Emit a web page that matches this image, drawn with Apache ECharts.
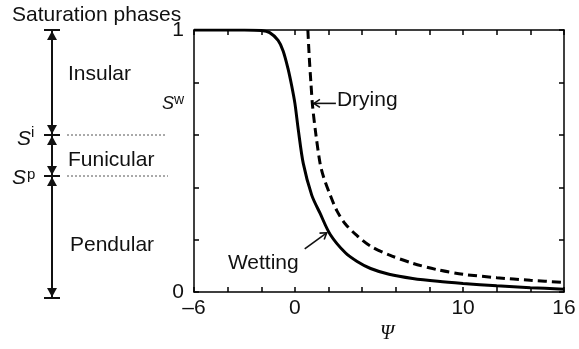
<!DOCTYPE html>
<html>
<head>
  <meta charset="utf-8">
  <title>Saturation phases</title>
  <script src="https://cdn.jsdelivr.net/npm/echarts@6/dist/echarts.min.js"></script>
  <style>
    html, body { margin: 0; padding: 0; background: #fff; }
    #main { width: 579px; height: 349px; }
  </style>
</head>
<body>
  <div id="main"></div>
  <script>
    // curves
    var wettingPsi = [-6, -3, -2, -1.5, -1.0, -0.7, -0.4, -0.2, 0, 0.2, 0.5, 1.0, 1.5, 2.1, 3.0, 3.7, 4.5, 5.6, 7.0, 8.5, 10, 12, 14, 16];
    var wettingS   = [1, 1, 0.998, 0.99, 0.96, 0.92, 0.85, 0.79, 0.72, 0.62, 0.49, 0.37, 0.30, 0.22, 0.15, 0.117, 0.09, 0.068, 0.052, 0.041, 0.033, 0.024, 0.017, 0.011];
    var dryingPsi  = [0.77, 0.85, 0.95, 1.05, 1.25, 1.5, 1.7, 2.1, 2.5, 3.0, 3.7, 4.5, 5.6, 7.0, 8.5, 10, 12, 14, 16];
    var dryingS    = [1, 0.9, 0.8, 0.71, 0.6, 0.49, 0.44, 0.37, 0.31, 0.26, 0.215, 0.175, 0.142, 0.11, 0.085, 0.068, 0.055, 0.045, 0.037];
    var xTickLabels = [-6, 0, 10, 16];
    var yTickLabels = [0, 1];

    function pairs(xs, ys) {
      return xs.map(function (x, i) { return [x, ys[i]]; });
    }

    var font = '"Liberation Sans", Arial, sans-serif';
    var ink = '#111';

    var myChart = echarts.init(document.getElementById('main'));

    function axisCommon() {
      return {
        axisLine: { onZero: false, lineStyle: { color: '#000', width: 1.5 } },
        axisTick: { inside: true, length: 5, lineStyle: { color: '#000', width: 1.5 } },
        splitLine: { show: false }
      };
    }

    var option = {
      animation: false,
      grid: { left: 194, right: 15, top: 30, bottom: 51 },
      xAxis: [
        Object.assign({
          type: 'value', min: -6, max: 16, interval: 2, position: 'bottom',
          name: 'Ψ', nameLocation: 'middle', nameGap: 26,
          nameTextStyle: { fontFamily: '"Liberation Serif", serif', fontStyle: 'italic', fontSize: 20, color: ink, padding: [0, 0, 0, 16] },
          axisLabel: {
            margin: 6, fontSize: 21, fontFamily: font, color: ink,
            formatter: function (v) {
              return xTickLabels.indexOf(v) >= 0 ? String(v).replace('-', '\u2013') : '';
            }
          }
        }, axisCommon()),
        Object.assign({
          type: 'value', min: -6, max: 16, interval: 2, position: 'top',
          axisLabel: { show: false }
        }, axisCommon())
      ],
      yAxis: [
        Object.assign({
          type: 'value', min: 0, max: 1, interval: 0.2, position: 'left',
          axisLabel: {
            margin: 10, fontSize: 21, fontFamily: font, color: ink,
            formatter: function (v) {
              return yTickLabels.indexOf(v) >= 0 ? String(v) : '';
            }
          }
        }, axisCommon()),
        Object.assign({
          type: 'value', min: 0, max: 1, interval: 0.2, position: 'right',
          axisLabel: { show: false }
        }, axisCommon())
      ],
      series: [
        {
          name: 'Wetting', type: 'line', showSymbol: false, smooth: 0.3,
          data: pairs(wettingPsi, wettingS),
          lineStyle: { color: '#000', width: 3 }
        },
        {
          name: 'Drying', type: 'line', showSymbol: false, smooth: 0.3,
          data: pairs(dryingPsi, dryingS),
          lineStyle: { color: '#000', width: 3, type: [9, 5] }
        }
      ]
    };

    myChart.setOption(option);

    // --- annotations ---
    function text(x, y, str, size, opts) {
      opts = opts || {};
      return {
        type: 'text', silent: true,
        style: {
          x: x, y: y, text: str, fill: ink,
          font: (opts.italic ? 'italic ' : '') + size + 'px ' + (opts.family || font),
          align: opts.align || 'left', textAlign: opts.align || 'left',
          verticalAlign: 'middle', textVerticalAlign: 'middle'
        }
      };
    }
    function line(x1, y1, x2, y2, w, dash, color) {
      return {
        type: 'line', silent: true,
        shape: { x1: x1, y1: y1, x2: x2, y2: y2 },
        style: { stroke: color || ink, lineWidth: w, lineDash: dash || null }
      };
    }
    function head(tx, ty, dy) {
      // filled triangle, tip at (tx,ty), pointing up (dy<0) or down (dy>0)
      return {
        type: 'polygon', silent: true,
        shape: { points: [[tx, ty], [tx - 5, ty - dy * 9], [tx + 5, ty - dy * 9]] },
        style: { fill: ink }
      };
    }
    function openArrow(tipX, tipY, tailX, tailY) {
      var dx = tailX - tipX, dy = tailY - tipY;
      var len = Math.sqrt(dx * dx + dy * dy);
      var ux = dx / len, uy = dy / len, px = -uy, py = ux;
      var h = 6, w = 4;
      return [
        line(tipX, tipY, tailX, tailY, 1.6),
        {
          type: 'polyline', silent: true,
          shape: { points: [[tipX + ux * h + px * w, tipY + uy * h + py * w], [tipX, tipY], [tipX + ux * h - px * w, tipY + uy * h - py * w]] },
          style: { stroke: ink, lineWidth: 1.6, fill: null }
        }
      ];
    }

    var ax = 52, yTop = 30, yI = 135, yP = 176, yBot = 298;
    var g = [
      text(12, 15, 'Saturation phases', 21),
      line(ax, yTop, ax, yBot, 2),
      line(ax - 8, yTop, ax + 8, yTop, 2),
      line(ax - 8, yI, ax + 8, yI, 2),
      line(ax - 8, yP, ax + 8, yP, 2),
      line(ax - 8, yBot, ax + 8, yBot, 2),
      head(ax, yTop + 1, -1),
      head(ax, yI - 1, 1),
      head(ax, yI + 1, -1),
      head(ax, yP - 1, 1),
      head(ax, yP + 1, -1),
      head(ax, yBot - 1, 1),
      line(67, yI, 165, yI, 1, [2, 2], '#555'),
      line(67, yP, 168, yP, 1, [2, 2], '#555'),
      text(68, 74, 'Insular', 21),
      text(68, 160, 'Funicular', 21),
      text(70, 245, 'Pendular', 21),
      text(17, 139, 'S', 21, { italic: true }),
      text(31, 133, 'i', 15),
      text(12, 178, 'S', 21, { italic: true }),
      text(27, 175, 'p', 15),
      text(162, 104, 'S', 18, { italic: true }),
      text(174, 100, 'w', 14)
    ];

    var dTip = myChart.convertToPixel({ xAxisIndex: 0, yAxisIndex: 0 }, [1.07, 0.72]);
    var wTip = myChart.convertToPixel({ xAxisIndex: 0, yAxisIndex: 0 }, [1.95, 0.23]);
    g = g.concat(openArrow(dTip[0] + 1, dTip[1], dTip[0] + 23, dTip[1]));
    g.push(text(dTip[0] + 24, dTip[1] - 3, 'Drying', 21));
    g = g.concat(openArrow(wTip[0] - 1, wTip[1] + 1, wTip[0] - 23, wTip[1] + 17));
    g.push(text(wTip[0] - 29, wTip[1] + 31, 'Wetting', 21, { align: 'right' }));

    myChart.setOption({ graphic: g });
  </script>
</body>
</html>
